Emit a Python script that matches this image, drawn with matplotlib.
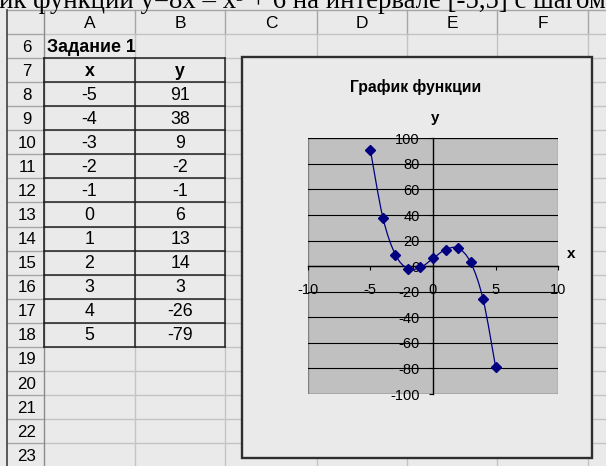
import matplotlib
matplotlib.use("Agg")
import matplotlib.pyplot as plt
from matplotlib.patches import Rectangle, PathPatch
from matplotlib.path import Path
import numpy as np

plt.rcParams["axes.unicode_minus"] = False

# table / series values
x_vals = [-5, -4, -3, -2, -1, 0, 1, 2, 3, 4, 5]
y_vals = [91, 38, 9, -2, -1, 6, 13, 14, 3, -26, -79]
col_names = ["A", "B", "C", "D", "E", "F"]
row_numbers = list(range(6, 24))
x_ticks = [-10, -5, 0, 5, 10]
y_ticks = [-100, -80, -60, -40, -20, 0, 20, 40, 60, 80, 100]

W, H = 606, 466
BG = "#EAEAEA"
GRID = "#C4C4C4"
HDR_LINE = "#A6A6A6"
SANS = "Liberation Sans"
CELL_FS = 12.8

# sheet geometry in pixels
col_edges = [7, 44, 135, 225, 317, 407, 497, 588, 640]
hdr_top = 10
row_h = 24.07


def row_top(r):
    return 34 + (r - 6) * row_h


fig = plt.figure(figsize=(W / 100, H / 100), dpi=100, facecolor=BG)
sheet = fig.add_axes([0, 0, 1, 1])
sheet.set_xlim(0, W)
sheet.set_ylim(H, 0)
sheet.axis("off")
sheet.set_facecolor(BG)

# heading text above the sheet (cut by the window edge)
sheet.text(-1, 7.5, "ик функции y=8x – x³ + 6 на интервале [-5,5] с шагом",
           family="Liberation Serif", fontsize=19.3, ha="left", va="baseline")

# cell grid
for r in row_numbers:
    y = row_top(r)
    sheet.plot([col_edges[1], W], [y, y], color=GRID, lw=1, zorder=1)
    sheet.plot([col_edges[0], col_edges[1]], [y, y], color=HDR_LINE, lw=1, zorder=1)
for xe in col_edges[2:]:
    sheet.plot([xe, xe], [hdr_top, row_top(6)], color=HDR_LINE, lw=1, zorder=1)
    sheet.plot([xe, xe], [row_top(6), H], color=GRID, lw=1, zorder=1)
sheet.plot([col_edges[0], W], [hdr_top, hdr_top], color=HDR_LINE, lw=1, zorder=1)
sheet.plot([col_edges[1], col_edges[1]], [hdr_top, H], color="#8C8C8C", lw=1, zorder=1)
sheet.plot([col_edges[0], col_edges[0]], [hdr_top, H], color="#404040", lw=1.2, zorder=1)

# column and row headers
for i, name in enumerate(col_names):
    cx = (col_edges[i + 1] + col_edges[i + 2]) / 2
    sheet.text(cx, (hdr_top + row_top(6)) / 2 + 1, name, family=SANS,
               fontsize=12.5, ha="center", va="center")
for r in row_numbers:
    sheet.text(27, row_top(r) + row_h / 2 + 1, str(r), family=SANS,
               fontsize=12.2, ha="center", va="center")

# task table
sheet.text(col_edges[1] + 3, row_top(6) + row_h / 2 + 1, "Задание 1", family=SANS,
           fontsize=CELL_FS, fontweight="bold", ha="left", va="center")
ax_c = (col_edges[1] + col_edges[2]) / 2
bx_c = (col_edges[2] + col_edges[3]) / 2
sheet.text(ax_c, row_top(7) + row_h / 2 + 1, "x", family=SANS, fontsize=CELL_FS,
           fontweight="bold", ha="center", va="center")
sheet.text(bx_c, row_top(7) + row_h / 2 + 1, "y", family=SANS, fontsize=CELL_FS,
           fontweight="bold", ha="center", va="center")
for k, (xv, yv) in enumerate(zip(x_vals, y_vals)):
    yc = row_top(8 + k) + row_h / 2 + 1
    sheet.text(ax_c, yc, str(xv), family=SANS, fontsize=CELL_FS, ha="center", va="center")
    sheet.text(bx_c, yc, str(yv), family=SANS, fontsize=CELL_FS, ha="center", va="center")
t_top, t_bot = row_top(7), row_top(19)
for r in range(7, 20):
    sheet.plot([col_edges[1], col_edges[3]], [row_top(r)] * 2, color="#202020", lw=1.1, zorder=2)
for xe in col_edges[1:4]:
    sheet.plot([xe, xe], [t_top, t_bot], color="#202020", lw=1.1, zorder=2)

# chart object frame
sheet.add_patch(Rectangle((241.7, 57.3), 350.6, 401, facecolor=BG,
                          edgecolor="#2E2E2E", lw=1.7, zorder=5))
sheet.text(415.8, 87, "График функции", family=SANS, fontsize=11.3,
           fontweight="bold", ha="center", va="center", zorder=6)
sheet.text(435, 118, "y", family=SANS, fontsize=11, fontweight="bold",
           ha="center", va="center", zorder=6)
sheet.text(571, 254, "x", family=SANS, fontsize=11, fontweight="bold",
           ha="center", va="center", zorder=6)

# plot area
pl, pr, pt, pb = 307.7, 558.3, 138.3, 394.0
ax = fig.add_axes([pl / W, (H - pb) / H, (pr - pl) / W, (pb - pt) / H])
ax.set_facecolor("#C0C0C0")
ax.set_xlim(-10, 10)
ax.set_ylim(-100, 100)
for side in ("top", "right"):
    ax.spines[side].set_visible(False)
for side in ("left", "bottom"):
    ax.spines[side].set_position("zero")
    ax.spines[side].set_color("black")
    ax.spines[side].set_linewidth(1)
ax.add_patch(Rectangle((0, 0), 1, 1, transform=ax.transAxes, fill=False,
                       edgecolor="#808080", lw=1, zorder=0.5))
ax.set_xticks(x_ticks)
ax.set_yticks(y_ticks)
ax.yaxis.grid(True, color="black", lw=0.8)
ax.set_axisbelow(True)
ax.tick_params(axis="y", direction="out", length=3, width=0.8, pad=6.5,
               labelsize=10.5)
ax.tick_params(axis="x", direction="out", length=3, width=0.8, pad=9,
               labelsize=10.5)
for lab in ax.get_xticklabels() + ax.get_yticklabels():
    lab.set_family(SANS)
    lab.set_zorder(4)

# smoothed series line (cubic Bezier through the points)
pts = np.column_stack([x_vals, y_vals]).astype(float)
ext = np.vstack([pts[0], pts, pts[-1]])
verts = [tuple(pts[0])]
codes = [Path.MOVETO]
for i in range(len(pts) - 1):
    p0, p1, p2, p3 = ext[i], ext[i + 1], ext[i + 2], ext[i + 3]
    c1 = p1 + (p2 - p0) / 6
    c2 = p2 - (p3 - p1) / 6
    verts += [tuple(c1), tuple(c2), tuple(p2)]
    codes += [Path.CURVE4] * 3
ax.add_patch(PathPatch(Path(verts, codes), fill=False, edgecolor="#000080",
                       lw=0.9, zorder=3))
ax.plot(x_vals, y_vals, linestyle="none", marker="D", markersize=5,
        color="#000080", zorder=3.5)

fig.savefig("out.png", dpi=100, facecolor=BG)
